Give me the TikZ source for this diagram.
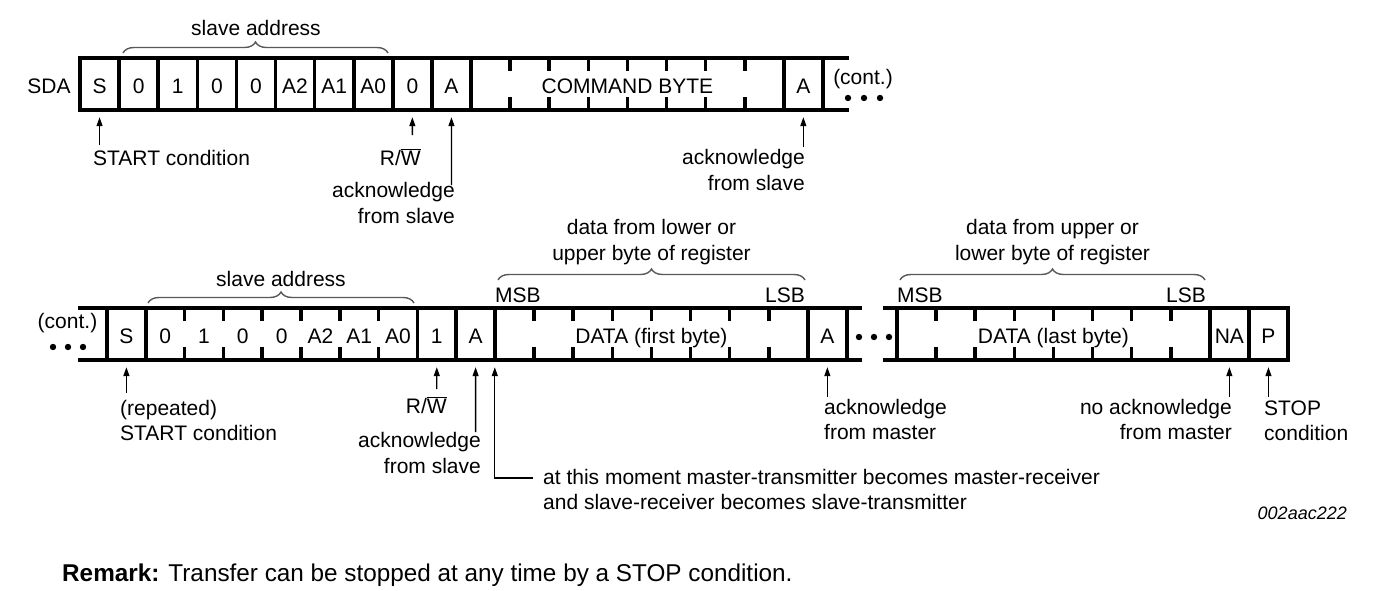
\documentclass[tikz,border=0pt]{standalone}
\usepackage{fontspec}
\setmainfont{Liberation Sans}
\usetikzlibrary{decorations.pathreplacing,arrows.meta}
\begin{document}
\begin{tikzpicture}[x=1pt,y=-1pt,
  every node/.style={inner sep=0pt},
  font=\fontsize{21}{25.5}\selectfont,
  frameline/.style={line width=3.6pt, line cap=rect},
  cell/.style={text height=19pt, text depth=0pt, minimum height=52pt},
  arr/.style={line width=1.3pt, -{Stealth[length=9pt,width=6pt,inset=0pt]}, shorten >=7pt},
  brc/.style={decorate, decoration={brace, amplitude=11pt}, line width=1.4pt, draw=black!65},
  bit/.style={fill=black, circle, minimum size=6.4pt},
]
\useasboundingbox (0,0) rectangle (1391,591);

% ---------- row 1 frame ----------
\draw[frameline] (80,58) -- (847,58) (80,110) -- (847,110);
\foreach \i in {0,...,10,18,19} \draw[frameline] (80+39.1*\i,58) -- (80+39.1*\i,110);
\foreach \i in {11,...,17} \draw[frameline] (80+39.1*\i,58) -- ++(0,11) (80+39.1*\i,110) -- ++(0,-11);

% ---------- row 2 frame ----------
\draw[frameline] (80,308) -- (860,308) (80,360) -- (860,360);
\foreach \i in {0,1,8,9,10} \draw[frameline] (107+38.8*\i,308) -- (107+38.8*\i,360);
\foreach \i in {2,...,7} \draw[frameline] (107+38.8*\i,308) -- ++(0,11) (107+38.8*\i,360) -- ++(0,-11);
\foreach \i in {8,9} \draw[frameline] (495+39.1*\i,308) -- (495+39.1*\i,360);
\foreach \i in {1,...,7} \draw[frameline] (495+39.1*\i,308) -- ++(0,11) (495+39.1*\i,360) -- ++(0,-11);
\draw[frameline] (885,308) -- (1288,308) (885,360) -- (1288,360);
\foreach \i in {0,8,9,10} \draw[frameline] (897+39.1*\i,308) -- (897+39.1*\i,360);
\foreach \i in {1,...,7} \draw[frameline] (897+39.1*\i,308) -- ++(0,11) (897+39.1*\i,360) -- ++(0,-11);

% ---------- row 1 cells ----------
\node[cell] (sda) at (49,84) {SDA};
\foreach \t [count=\i from 0] in {S,0,1,0,0,A2,A1,A0,0,A}
  \node[cell] (r1c\i) at (99.55+39.1*\i,84) {\t};
\node[cell, minimum width=312.8pt] (cmd) at (627.4,84) {COMMAND BYTE};
\node[cell] (r1ack) at (803.35,84) {A};
\node (cont1) at (863,79) {(cont.)};
\node[bit] (e11) at (848,98) {};
\node[bit] (e12) at (864,98) {};
\node[bit] (e13) at (880,98) {};

% ---------- row 2 cells ----------
\node (cont2) at (67.5,323) {(cont.)};
\node[bit] (e21) at (53,347) {};
\node[bit] (e22) at (68,347) {};
\node[bit] (e23) at (83,347) {};
\foreach \t [count=\i from 0] in {S,0,1,0,0,A2,A1,A0,1,A}
  \node[cell] (r2c\i) at (126.4+38.8*\i,334) {\t};
\node[cell, minimum width=312.8pt] (data1) at (651.4,334) {DATA (first byte)};
\node[cell] (r2ack) at (827.35,334) {A};
\node[bit] (e31) at (859,337) {};
\node[bit] (e32) at (874,337) {};
\node[bit] (e33) at (889,337) {};
\node[cell, minimum width=312.8pt] (data2) at (1053.4,334) {DATA (last byte)};
\node[cell] (na) at (1229.35,334) {NA};
\node[cell] (stp) at (1268.45,334) {P};

% ---------- braces ----------
\draw[brc] (123,53) -- (388,53);
\node[anchor=base] (sa1) at (256,36) {slave address};
\draw[brc] (148,303) -- (414,303);
\node[anchor=base] (sa2) at (281,286) {slave address};
\draw[brc] (498,280) -- (805,280);
\node[anchor=base, align=center] (dl1) at (651.5,260) {data from lower or\\upper byte of register};
\node[anchor=base west] (msb1) at (495,302) {MSB};
\node[anchor=base east] (lsb1) at (805,302) {LSB};
\draw[brc] (900,280) -- (1205,280);
\node[anchor=base, align=center] (dl2) at (1052.5,260) {data from upper or\\lower byte of register};
\node[anchor=base west] (msb2) at (897,302) {MSB};
\node[anchor=base east] (lsb2) at (1206,302) {LSB};

% ---------- row 1 labels and arrows ----------
\node[anchor=base west] (lstart1) at (93,165) {START condition};
\node[anchor=base east] (lrw1) at (421,165) {R/$\overline{\mbox{W}}$};
\node[anchor=base east, align=right] (lack1) at (455,223) {acknowledge\\from slave};
\node[anchor=base east, align=right] (lack2) at (805,190) {acknowledge\\from slave};
\coordinate (t1) at (99.55,145);
\coordinate (t2) at (412.35,135);
\coordinate (t3) at (451.45,185);
\coordinate (t4) at (803.35,147);
\draw[arr] (t1) -- (r1c0.south);
\draw[arr] (t2) -- (r1c8.south);
\draw[arr] (t3) -- (r1c9.south);
\draw[arr] (t4) -- (r1ack.south);

% ---------- row 2 labels and arrows ----------
\node[anchor=base west, align=left] (lstart2) at (120,440.5) {(repeated)\\START condition};
\node[anchor=base east] (lrw2) at (447,413) {R/$\overline{\mbox{W}}$};
\node[anchor=base east, align=right] (lack3) at (481,473) {acknowledge\\from slave};
\node[anchor=base west, align=left] (lswitch) at (543,509.5) {at this moment master-transmitter becomes master-receiver\\and slave-receiver becomes slave-transmitter};
\node[anchor=base west, align=left] (lack4) at (824,439.5) {acknowledge\\from master};
\node[anchor=base east, align=right] (lnack) at (1232,439.5) {no acknowledge\\from master};
\node[anchor=base west, align=left] (lstop) at (1264,440.5) {STOP\\condition};
\coordinate (u1) at (126.4,393);
\coordinate (u2) at (436.8,389);
\coordinate (u3) at (475.6,432);
\coordinate (u4) at (533,478);
\coordinate (u5) at (827.35,397);
\coordinate (u6) at (1229.35,397);
\coordinate (u7) at (1268.45,397);
\draw[arr] (u1) -- (r2c0.south);
\draw[arr] (u2) -- (r2c8.south);
\draw[arr] (u3) -- (r2c9.south);
\draw[arr] (u4) -| (data1.south west);
\draw[arr] (u5) -- (r2ack.south);
\draw[arr] (u6) -- (na.south);
\draw[arr] (u7) -- (stp.south);

\node[anchor=base east, font=\fontsize{18}{20}\selectfont\itshape] (fig) at (1347,519) {002aac222};
\node[anchor=base west, font=\fontsize{24.3}{28}\selectfont] (remark) at (62,581) {\textbf{Remark:} Transfer can be stopped at any time by a STOP condition.};
\end{tikzpicture}
\end{document}
